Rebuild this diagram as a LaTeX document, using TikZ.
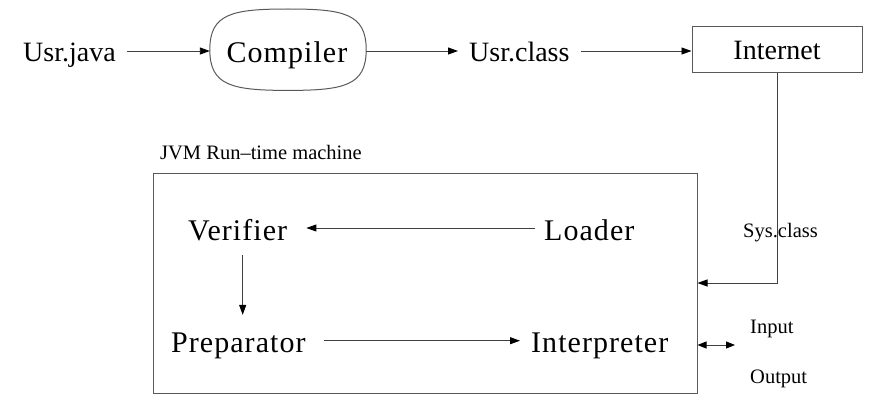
\documentclass[tikz,border=0pt]{standalone}
\usepackage{fontspec}
\setmainfont{Liberation Serif}
\usetikzlibrary{arrows.meta,calc}
\begin{document}
\begin{tikzpicture}[x=1pt,y=1pt,
  conn/.style={draw=black!75, line width=0.9pt, -{Triangle[length=10pt,width=7pt,fill=black,color=black]}},
  dconn/.style={draw=black!75, line width=0.9pt, {Triangle[length=9pt,width=7pt,fill=black,color=black]}-{Triangle[length=9pt,width=7pt,fill=black,color=black]}},
  frame/.style={draw=black!65, line width=1pt},
  toptxt/.style={inner sep=0pt, anchor=base west, font=\fontsize{28}{32}\selectfont},
  midtxt/.style={inner sep=0pt, anchor=base west, font=\fontsize{30}{34}\selectfont\addfontfeature{LetterSpace=3.5}},
  smalltxt/.style={inner sep=0pt, anchor=base west, font=\fontsize{20.5}{24}\selectfont},
]
\useasboundingbox (0,0) rectangle (880,416);
% top row
\node[toptxt] (usrjava) at (23,355) {Usr.java};
\node[inner sep=0pt, minimum width=156pt, minimum height=81pt] (compiler) at (288,366.3) {};
\draw[frame] (compiler.west)
  .. controls ($(compiler.west)+(0,36)$) and ($(compiler.north)+(-56,0)$) .. (compiler.north)
  .. controls ($(compiler.north)+(56,0)$) and ($(compiler.east)+(0,36)$) .. (compiler.east)
  .. controls ($(compiler.east)+(0,-36)$) and ($(compiler.south)+(56,0)$) .. (compiler.south)
  .. controls ($(compiler.south)+(-56,0)$) and ($(compiler.west)+(0,-36)$) .. (compiler.west) -- cycle;
\node[inner sep=0pt, anchor=base, font=\fontsize{30}{34}\selectfont\addfontfeature{LetterSpace=3.5}] (compilertxt) at (287,353) {Compiler};
\node[toptxt] (usrclass) at (469,355) {Usr.class};
\node[frame, inner sep=0pt, minimum width=170pt, minimum height=46pt, font=\fontsize{28}{32}\selectfont] (internet) at (777,366) {Internet};
\draw[conn] ($(usrjava.east |- 0,365)+(11,0)$) -- (compiler.west |- 0,365);
\draw[conn] (compiler.east |- 0,365) -- ($(usrclass.west |- 0,365)+(-11,0)$);
\draw[conn] ($(usrclass.east |- 0,365)+(11,0)$) -- (internet.west |- 0,365);
% JVM box
\node[smalltxt] (jvmlabel) at (160,257) {JVM Run–time machine};
\node[frame, inner sep=0pt, minimum width=544pt, minimum height=220pt] (jvm) at (425,133) {};
\draw[conn] (internet.south) |- (jvm.east);
\node[smalltxt] (sysclass) at (743,179) {Sys.class};
% inside
\node[midtxt] (verifier) at (188,176) {Verifier};
\node[midtxt] (loader) at (544,176) {Loader};
\node[midtxt] (preparator) at (171,63.3) {Preparator};
\node[midtxt] (interpreter) at (531,63.3) {Interpreter};
\draw[conn] ($(loader.base west)+(-9,12)$) -- ($(verifier.base east)+(19,12)$);
\draw[conn] ($(verifier.base)+(5,-15)$) -- ($(verifier.base |- preparator.north)+(5,18)$);
\draw[conn] ($(preparator.base east)+(18,12)$) -- ($(interpreter.base west)+(-11,12)$);
% input / output
\node[smalltxt] (input) at (750,83) {Input};
\node[smalltxt] (output) at (750,33) {Output};
\coordinate (io) at (735,71);
\draw[dconn] (jvm.east |- io) -- (io);
\end{tikzpicture}
\end{document}
